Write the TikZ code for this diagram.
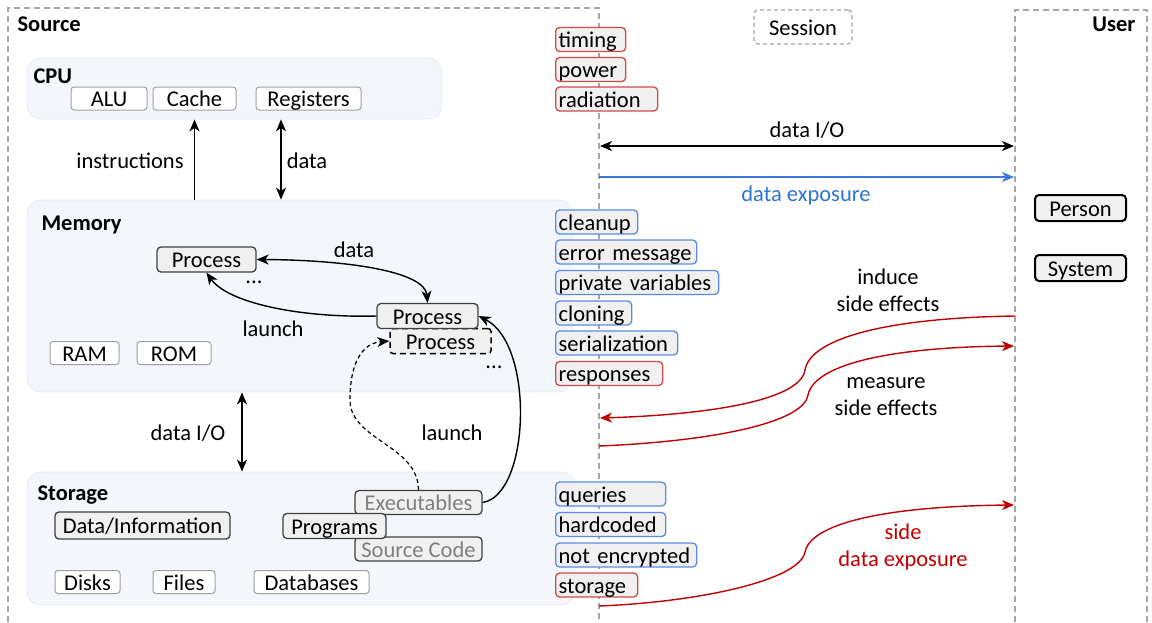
\documentclass[tikz,border=0pt]{standalone}
\usepackage{fontspec}
\setmainfont{Carlito}
\usetikzlibrary{arrows.meta}
\definecolor{grp}{HTML}{F3F6FA}
\definecolor{grpline}{HTML}{E6ECF4}
\definecolor{boxfill}{HTML}{F0F0F0}
\definecolor{lred}{HTML}{D04A4A}
\definecolor{lblue}{HTML}{5B8AE6}
\definecolor{dred}{HTML}{C00000}
\definecolor{dblue}{HTML}{3B78DD}
\definecolor{tblue}{HTML}{2E74D0}
\definecolor{dashgray}{HTML}{A6A6A6}
\definecolor{wborder}{HTML}{A0A0A0}
\definecolor{graytext}{HTML}{7F7F7F}
\begin{document}
\begin{tikzpicture}[x=1pt,y=-1pt,
  font=\fontsize{22.5}{27}\selectfont,
  grpbox/.style={fill=grp, draw=grpline, line width=0.8pt, rounded corners=14pt, inner sep=0pt},
  txtbase/.style={text height=18pt, text depth=2pt, inner sep=0pt},
  wbox/.style={txtbase, fill=white, draw=wborder, line width=1pt, rounded corners=3pt, minimum height=23pt},
  gbox/.style={txtbase, fill=boxfill, draw=black!75, line width=1.3pt, rounded corners=4pt, minimum height=25pt},
  ubox/.style={txtbase, fill=boxfill, draw=black, line width=2pt, rounded corners=4pt, minimum height=26pt},
  lab/.style={txtbase, anchor=west, fill=boxfill, line width=1.3pt, rounded corners=4pt, minimum height=24pt, inner xsep=3pt, align=left},
  rlab/.style={lab, draw=lred},
  blab/.style={lab, draw=lblue},
  bold/.style={font=\fontsize{22.5}{27}\selectfont\bfseries},
  tip/.style={-{Stealth[length=12pt,width=10pt,inset=3.5pt]}},
  dtip/.style={{Stealth[length=12pt,width=10pt,inset=3.5pt]}-{Stealth[length=12pt,width=10pt,inset=3.5pt]}},
  arr/.style={tip, line width=1.4pt, black},
  darr/.style={dtip, line width=1.4pt, black},
  rarr/.style={tip, line width=1.4pt, dred},
  dline/.style={dashgray, line width=1.2pt, dash pattern=on 6pt off 4pt}
]
\useasboundingbox (0,0) rectangle (1152,622);

% groups
\node[grpbox, minimum width=415pt, minimum height=61pt] (cpu) at (234.5,88.5) {};
\node[grpbox, minimum width=545pt, minimum height=192pt] (mem) at (299.5,296) {};
\node[grpbox, minimum width=548pt, minimum height=133pt] (sto) at (301,538.5) {};

% dashed frame lines
\draw[dline] (8,622) -- (8,8) -- (599,8) -- (599,622);
\draw[dline] (1015,622) -- (1015,10) -- (1147,10) -- (1147,622);

\node[bold, anchor=west] (cpul) at (30,76) {CPU};
\node[bold, anchor=west] (meml) at (38,225) {Memory};
\node[bold, anchor=west] (stol) at (34,495) {Storage};
\node[bold, anchor=west] (srcl) at (14,24) {Source};
\node[bold, anchor=east] (usrl) at (1139,24) {User};

% session box
\node[txtbase, draw=dashgray, line width=1.2pt, dash pattern=on 4pt off 3pt, rounded corners=4pt,
      minimum width=98pt, minimum height=34pt] (sess) at (803,27) {Session};

% CPU parts
\node[wbox, minimum width=76pt] (alu) at (109,98.5) {ALU};
\node[wbox, minimum width=83pt] (cache) at (194.5,98.5) {Cache};
\node[wbox, minimum width=105pt] (reg) at (308.5,98.5) {Registers};

% Memory parts
\node[gbox, minimum width=99pt] (p1) at (206.5,259.5) {Process};
\node[txtbase, fill=boxfill, draw=black, line width=1.5pt, dash pattern=on 6pt off 4pt, rounded corners=3pt,
      minimum width=101pt, minimum height=25pt] (pd) at (440.5,341) {Process};
\node[gbox, minimum width=101pt] (p2) at (427.5,316) {Process};
\node (dots1) at (254,282) {...};
\node (dots2) at (494,367) {...};
\node[wbox, minimum width=69pt] (ram) at (84.5,353) {RAM};
\node[wbox, minimum width=74pt] (rom) at (174,353) {ROM};

% Storage parts
\node[gbox, minimum width=175pt, minimum height=27pt] (data) at (142.5,525.5) {Data/Information};
\node[gbox, minimum width=127pt, minimum height=24pt, text=graytext] (exe) at (418.5,502.5) {Executables};
\node[gbox, minimum width=127pt, minimum height=24pt, text=graytext] (src) at (418.5,549) {Source Code};
\node[gbox, minimum width=103pt] (prog) at (334.5,526) {Programs};
\node[wbox, minimum width=65pt] (disks) at (87.5,582) {Disks};
\node[wbox, minimum width=62pt] (files) at (184,582) {Files};
\node[wbox, minimum width=115pt] (dbs) at (311.5,582) {Databases};

% User
\node[ubox, minimum width=91pt] (person) at (1080.5,208) {Person};
\node[ubox, minimum width=91pt] (system) at (1080.5,268) {System};

% labels column
\node[rlab, text width=64pt] (l1) at (555,39.5) {timing};
\node[rlab, text width=64pt] (l2) at (555,69.5) {power};
\node[rlab, text width=96pt] (l3) at (555,99) {radiation};
\node[blab, text width=76pt] (l4) at (555,222) {cleanup};
\node[blab, text width=135pt] (l5) at (555,252) {error message};
\node[blab, text width=157pt] (l6) at (555,282.5) {private variables};
\node[blab, text width=70pt] (l7) at (555,313) {cloning};
\node[blab, text width=116pt] (l8) at (555,343) {serialization};
\node[rlab, text width=101pt] (l9) at (555,373.5) {responses};
\node[blab, text width=104pt] (l10) at (555,494) {queries};
\node[blab, text width=104pt] (l11) at (555,524.5) {hardcoded};
\node[blab, text width=135pt] (l12) at (555,555) {not encrypted};
\node[rlab, text width=76pt] (l13) at (555,585) {storage};

% CPU <-> Memory
\coordinate (dx) at (281,0);
\coordinate (iox) at (242,0);
\draw[arr] (mem.north -| cache.south) -- (cpu.south -| cache.south);
\draw[darr] (cpu.south -| dx) -- (mem.north -| dx);
\node (tinstr) at (130,161) {instructions};
\node (tdata) at (307,161) {data};

% Memory internal
\draw[darr] (p1.east) .. controls (350,260) and (425,272) .. (p2.north);
\node (tdata2) at (354,250) {data};
\draw[arr] (p2.west) .. controls (300,318) and (228,303) .. (p1.south);
\node (tlaunch) at (273,329) {launch};

% Memory <-> Storage
\draw[darr] (mem.south -| iox) -- (sto.north -| iox);
\node (tio) at (188,433) {data I/O};

% launch from Executables
\draw[arr] (exe.east) .. controls (530,495) and (535,345) .. (p2.east);
\draw[arr, line width=1.2pt, dash pattern=on 4pt off 3pt] (exe.north) .. controls (418,445) and (350,440) .. (350,400) .. controls (350,358) and (365,343) .. (pd.west);
\node (tlaunch2) at (452,433) {launch};

% session arrows
\coordinate (a1) at (600,146);
\coordinate (a2) at (1014,146);
\draw[darr] (a1) -- (a2);
\node (tio2) at (807,130) {data I/O};
\coordinate (b1) at (599,177);
\coordinate (b2) at (1014,177);
\draw[tip, line width=1.4pt, dblue] (b1) -- (b2);
\node[text=tblue] (texp) at (806,195) {data exposure};

% red side channel arrows
\coordinate (c1) at (1015,316);
\coordinate (c2) at (600,418);
\draw[rarr] (c1) .. controls (880,318) and (810,340) .. (805,370) .. controls (800,402) and (700,415) .. (c2);
\node[align=center] (tind) at (888,290) {induce\\side effects};
\coordinate (d1) at (599,446);
\coordinate (d2) at (1014,346);
\draw[rarr] (d1) .. controls (700,442) and (803,425) .. (808,395) .. controls (815,362) and (900,347) .. (d2);
\node[align=center] (tmeas) at (886,397) {measure\\side effects};
\coordinate (e1) at (599,606);
\coordinate (e2) at (1014,505);
\draw[rarr] (e1) .. controls (700,602) and (800,580) .. (805,552) .. controls (812,520) and (900,506) .. (e2);
\node[align=center, text=dred] (tside) at (903,547) {side\\data exposure};
\end{tikzpicture}
\end{document}
